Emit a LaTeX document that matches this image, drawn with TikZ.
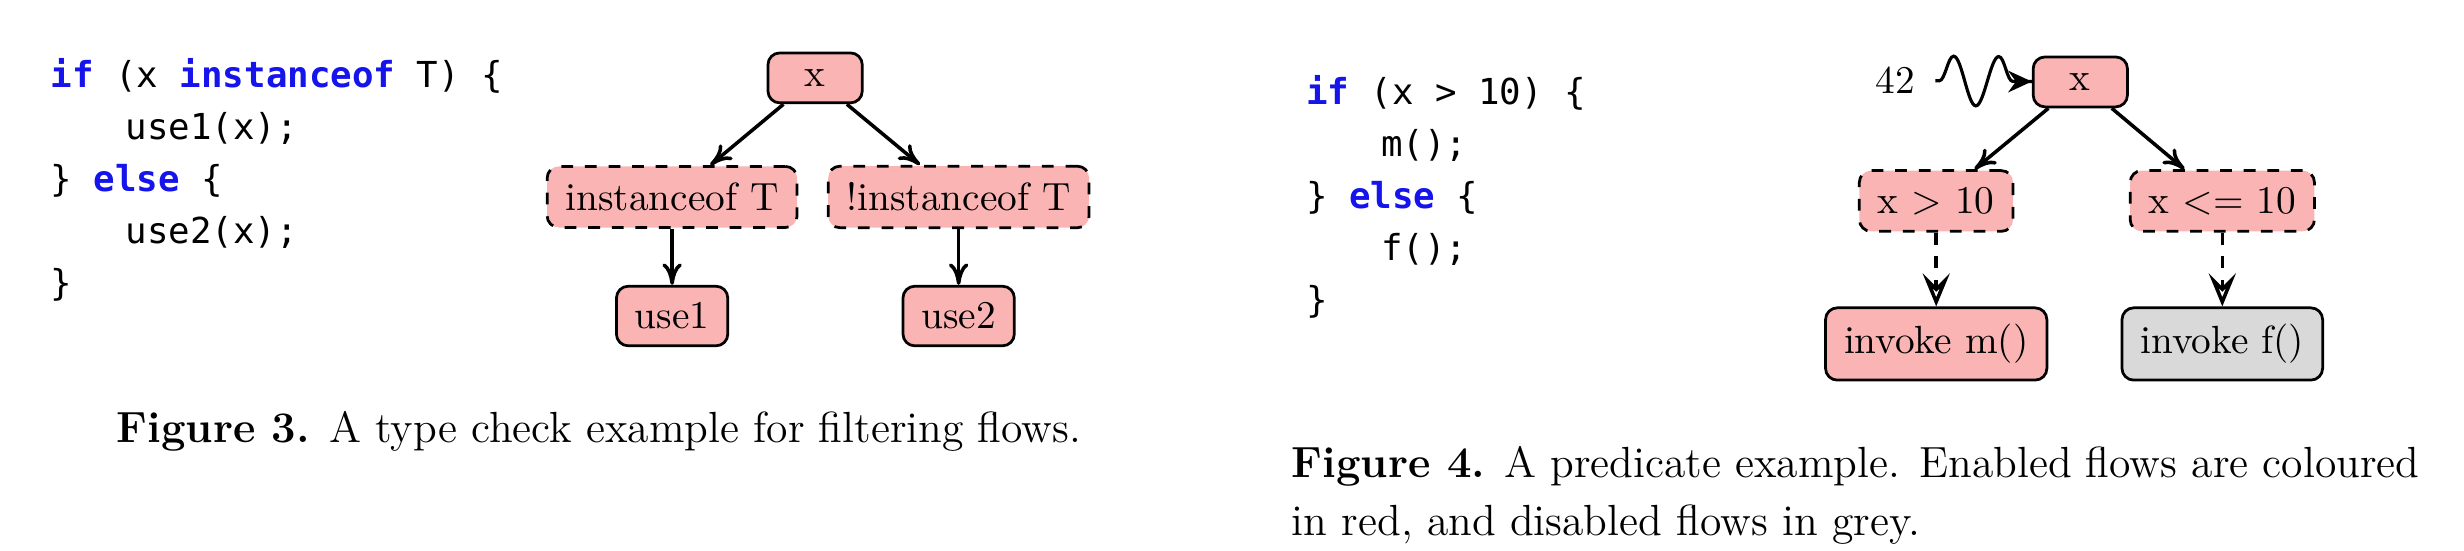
\documentclass[tikz,border=0pt]{standalone}
\usepackage{fontspec}
\usepackage{xcolor}
\usepackage{tikz}
\usetikzlibrary{arrows.meta, positioning, decorations.pathmorphing}
\newfontfamily\codefont{DejaVu Sans Mono}
\definecolor{flowred}{RGB}{251, 180, 180}
\definecolor{flowgrey}{RGB}{217, 217, 217}
\definecolor{keyblue}{RGB}{20, 20, 235}
\newcommand{\kw}[1]{{\bfseries\color{keyblue}#1}}

\begin{document}
\begin{tikzpicture}[
  flow/.style={draw, fill=flowred, rounded corners=3pt, line width=0.7pt,
               inner xsep=4.7pt, inner ysep=4.2pt, minimum width=24pt},
  guard/.style={flow, dashed},
  offflow/.style={flow, fill=flowgrey},
  flowarrow/.style={-{To[length=5.5pt, width=5pt]}, line width=0.9pt},
  condarrow/.style={dashed, line width=0.9pt,
                    -{Stealth[open, length=8.4pt, width=6.9pt, inset=3.4pt]}},
  squiggle/.style={line width=0.8pt, -{Stealth[length=6pt, width=5.5pt]}, decorate,
                   decoration={snake, amplitude=6.3pt, segment length=11.5pt,
                               pre length=1pt, post length=0.5pt}},
  listing/.style={anchor=base west, inner sep=0pt,
                  font=\codefont\fontsize{9.1}{13.2}\selectfont},
  figcap/.style={inner sep=0pt, font=\fontsize{11.1}{14.8}\selectfont}
]
\useasboundingbox (0,0) rectangle (22.04, 4.92);

% Figure 3: code
\node[listing] (codeL) at (0.447, 4.133) {\begin{tabular}[t]{@{}l@{}}
\kw{if} (x \kw{instanceof} T) \{\\
\hspace*{2.1em}use1(x);\\
\} \kw{else} \{\\
\hspace*{2.1em}use2(x);\\
\}
\end{tabular}};

% Figure 3: flow tree
\node[flow]  (xL)    at (7.291, 4.223) {x};
\node[guard] (instL) at (6.012, 3.158) {instanceof T};
\node[guard] (ninstL) at (8.575, 3.158) {!instanceof T};
\node[flow]  (use1)  at (6.012, 2.093) {use1};
\node[flow]  (use2)  at (8.575, 2.093) {use2};

\draw[flowarrow] (xL) -- (instL);
\draw[flowarrow] (xL) -- (ninstL);
\draw[flowarrow] (instL) -- (use1);
\draw[flowarrow] (ninstL) -- (use2);

\node[figcap, anchor=base] (capL) at (5.359, 0.966)
  {\textbf{Figure 3.} A type check example for filtering flows.};

% Figure 4: code
\node[listing] (codeR) at (11.675, 3.981) {\begin{tabular}[t]{@{}l@{}}
\kw{if} (x > 10) \{\\
\hspace*{2.1em}m();\\
\} \kw{else} \{\\
\hspace*{2.1em}f();\\
\}
\end{tabular}};

% Figure 4: flow tree
\node[inner sep=0pt, inner xsep=5pt] (n42) at (16.953, 4.20) {42};
\node[flow]    (xR)   at (18.608, 4.187) {x};
\node[guard]   (gtR)  at (17.319, 3.122) {x > 10};
\node[guard]   (leR)  at (19.878, 3.122) {x <= 10};
\node[flow]    (invM) at (17.319, 1.843) {invoke m()};
\node[offflow] (invF) at (19.878, 1.843) {invoke f()};

\draw[squiggle] (n42) -- (xR);
\draw[flowarrow] (xR) -- (gtR);
\draw[flowarrow] (xR) -- (leR);
\draw[condarrow] (gtR) -- (invM);
\draw[condarrow] (leR) -- (invF);

\node[figcap, anchor=base west] (capR) at (11.549, 0.653) {\begin{tabular}[t]{@{}l@{}}
\textbf{Figure 4.} A predicate example. Enabled flows are coloured\\
in red, and disabled flows in grey.
\end{tabular}};

\end{tikzpicture}
\end{document}
